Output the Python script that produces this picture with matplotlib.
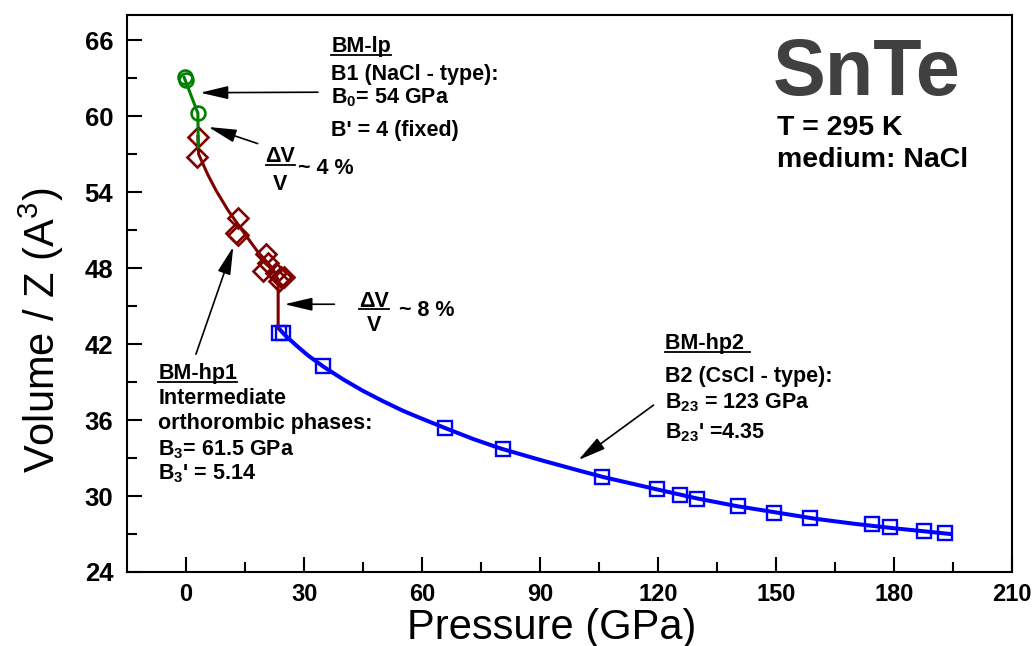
import numpy as np
import matplotlib.pyplot as plt
from matplotlib.lines import Line2D

plt.rcParams["font.family"] = ["Liberation Sans", "DejaVu Sans"]
plt.rcParams["mathtext.fontset"] = "custom"
plt.rcParams["mathtext.default"] = "regular"

# B1 (NaCl-type) low pressure phase
p_lp = [0.0, -0.2, 3.0]
v_lp = [62.9, 63.1, 60.25]
p_lp_fit = [-0.5, 3.0, 3.1]
v_lp_fit = [63.07, 60.25, 57.57]

# intermediate orthorhombic phases
p_hp1 = [3.1, 2.8, 13.2, 12.7, 13.3, 20.4, 19.6, 20.8, 22.9, 24.2, 24.9, 23.6]
v_hp1 = [58.4, 56.8, 52.0, 50.8, 50.6, 49.1, 47.8, 48.4, 47.6, 47.3, 47.3, 47.0]
p_hp1_fit = [3.0, 3.2, 5.5, 7.6, 10.6, 14.8, 18.2, 22.1, 23.4, 23.4]
v_hp1_fit = [58.4, 57.0, 55.4, 54.15, 52.6, 50.75, 49.3, 47.95, 47.05, 43.3]

# B2 (CsCl-type) high pressure phase
p_hp2 = [23.5, 24.6, 34.8, 65.7, 80.6, 105.6, 119.6, 125.5, 129.8, 140.4,
         149.5, 158.6, 174.3, 179.0, 187.5, 193.0]
v_hp2 = [42.9, 42.85, 40.26, 35.34, 33.68, 31.47, 30.53, 30.08, 29.74, 29.2,
         28.68, 28.24, 27.79, 27.53, 27.26, 27.05]
p_hp2_fit = [23.4, 25, 28, 31, 35, 40, 45, 50, 55, 60, 66, 73, 80, 90, 100,
             106, 113, 120, 130, 140, 150, 160, 170, 180, 188, 194.2]
v_hp2_fit = [43.3, 42.75, 41.9, 41.1, 40.2, 39.2, 38.3, 37.5, 36.75, 36.1, 35.35,
             34.5, 33.75, 32.85, 32.0, 31.5, 31.0, 30.5, 29.8, 29.2, 28.7, 28.2,
             27.8, 27.45, 27.2, 27.0]

fig = plt.figure(figsize=(10.33, 6.46), dpi=100)
ax = fig.add_axes([0.123, 0.1146, 0.857, 0.8622])

ax.plot(p_hp2_fit, v_hp2_fit, color="#0000FF", lw=2.9, zorder=2)
ax.plot(p_hp1_fit, v_hp1_fit, color="#800000", lw=2.2, zorder=2)
ax.plot(p_lp_fit, v_lp_fit, color="#008000", lw=2.2, zorder=4)
ax.plot(p_hp2, v_hp2, "s", ms=9.5, mfc="none", mec="#0000FF", mew=1.7, zorder=3)
ax.plot(p_hp1, v_hp1, "D", ms=10, mfc="none", mec="#800000", mew=1.9, zorder=3)
ax.plot(p_lp, v_lp, "o", ms=10, mfc="none", mec="#008000", mew=1.9, zorder=5)

ax.set_xlim(-15, 210)
ax.set_ylim(24, 68)
ax.set_xticks(np.arange(0, 211, 30))
ax.set_xticks(np.arange(15, 210, 30), minor=True)
ax.set_yticks(np.arange(24, 67, 6))
ax.set_yticks(np.arange(27, 67, 6), minor=True)
ax.tick_params(which="both", direction="in", width=1.5, top=False, right=False)
ax.tick_params(which="major", length=11)
ax.tick_params(which="minor", length=7)
ax.tick_params(axis="y", pad=10, labelsize=18.5)
ax.tick_params(axis="x", pad=8, labelsize=17)
for lab in ax.get_xticklabels() + ax.get_yticklabels():
    lab.set_fontweight("bold")
for s in ax.spines.values():
    s.set_linewidth(1.5)

ax.set_xlabel("Pressure (GPa)", fontsize=30)
ax.set_ylabel("Volume / Z (A$^{3}$)", fontsize=30)
ax.xaxis.set_label_coords(0.48, -0.064)
ax.yaxis.set_label_coords(-0.069, 0.434)

fs = 15.5
kw = dict(fontsize=fs, fontweight="bold", va="baseline", ha="left")
under = []

t = ax.text(36.9, 65.07, "BM-lp", **kw)
under.append(t)
ax.text(36.9, 62.85, "B1 (NaCl - type):", **kw)
ax.text(36.9, 61.04, "B$_0$= 54 GPa", **kw)
ax.text(36.9, 58.41, "B' = 4 (fixed)", **kw)

t = ax.text(-7.1, 39.21, "BM-hp1", **kw)
under.append(t)
ax.text(-7.1, 37.26, "Intermediate", **kw)
ax.text(-7.1, 35.29, "orthorombic phases:", **kw)
ax.text(-7.1, 33.23, "B$_3$= 61.5 GPa", **kw)
ax.text(-7.1, 31.32, "B$_3$' = 5.14", **kw)

t = ax.text(121.6, 41.58, "BM-hp2 ", **kw)
under.append(t)
ax.text(121.6, 39.02, "B2 (CsCl - type):", **kw)
ax.text(121.6, 36.92, "B$_{23}$ = 123 GPa", **kw)
ax.text(121.6, 34.55, "B$_{23}$' =4.35", **kw)

# delta V / V fractions
ckw = dict(fontsize=fs, fontweight="bold", va="baseline", ha="center")
f1 = ax.text(24.0, 56.38, "\u0394V", **ckw)
ax.text(24.0, 54.15, "V", **ckw)
ax.text(28.5, 55.47, "~ 4 %", **kw)
f2 = ax.text(47.8, 44.94, "\u0394V", **ckw)
ax.text(47.8, 43.05, "V", **ckw)
ax.text(54.2, 44.2, "~ 8 %", **kw)
under.extend([f1, f2])

ax.text(149.0, 61.65, "SnTe", fontsize=57, fontweight="bold", color="#404040",
        va="baseline", ha="left")
ax.text(150.1, 58.5, "T = 295 K", fontsize=20.5, fontweight="bold", va="baseline")
ax.text(150.1, 56.0, "medium: NaCl", fontsize=20.5, fontweight="bold", va="baseline")

aprops = dict(arrowstyle="-|>,head_length=0.85,head_width=0.2", color="k",
              lw=1.2, mutation_scale=20, shrinkA=0, shrinkB=0)
ax.annotate("", xy=(3.6, 61.86), xytext=(33.5, 61.9), arrowprops=aprops)
ax.annotate("", xy=(5.7, 59.15), xytext=(18.2, 57.84), arrowprops=aprops)
ax.annotate("", xy=(25.0, 45.15), xytext=(37.7, 45.15), arrowprops=aprops)
ax.annotate("", xy=(12.0, 49.7), xytext=(2.5, 41.2), arrowprops=aprops)
ax.annotate("", xy=(99.7, 32.84), xytext=(118.8, 37.18), arrowprops=aprops)

# underlines / fraction bars
fig.canvas.draw()
r = fig.canvas.get_renderer()
W, H = fig.bbox.width, fig.bbox.height
for t in under:
    bb = t.get_window_extent(r)
    x0, y0 = ax.transData.transform(t.get_position())
    y = y0 - 2.5
    fig.add_artist(Line2D([bb.x0 / W, bb.x1 / W], [y / H, y / H],
                          color="k", lw=1.3, transform=fig.transFigure))

fig.savefig("out.png", dpi=100)
